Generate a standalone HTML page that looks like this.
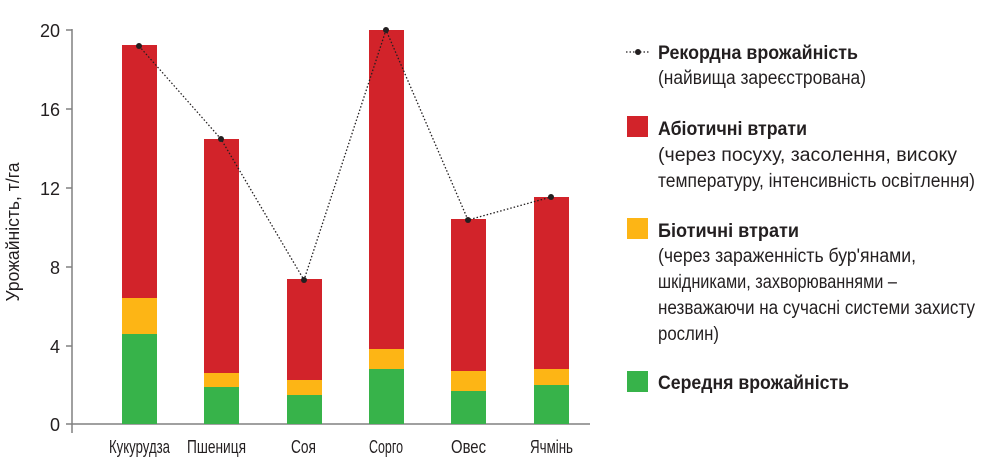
<!DOCTYPE html>
<html><head><meta charset="utf-8"><style>
body{margin:0;background:#fff;}
svg text{font-family:"Liberation Sans Narrow","Liberation Sans",sans-serif;fill:#231f20;}
</style></head><body>
<svg width="984" height="467" viewBox="0 0 984 467" xmlns="http://www.w3.org/2000/svg">
<g font-size="18" text-anchor="end">
<text x="60" y="37">20</text><text x="60" y="116">16</text><text x="60" y="195">12</text>
<text x="60" y="274">8</text><text x="60" y="353">4</text><text x="60" y="431">0</text>
</g>
<text transform="translate(19,232) rotate(-90)" font-size="18" text-anchor="middle" textLength="139" lengthAdjust="spacingAndGlyphs">Урожайність, т/га</text>
<g stroke="#808080" stroke-width="1.5">
<line x1="72" y1="29" x2="72" y2="433"/>
<line x1="66" y1="424" x2="590" y2="424"/>
<line x1="66" y1="30" x2="72" y2="30"/><line x1="66" y1="109" x2="72" y2="109"/>
<line x1="66" y1="188" x2="72" y2="188"/><line x1="66" y1="267" x2="72" y2="267"/>
<line x1="66" y1="346" x2="72" y2="346"/>
</g>
<g>
<rect x="122" y="45" width="35" height="253" fill="#d2232a"/><rect x="122" y="298" width="35" height="36" fill="#fdb515"/><rect x="122" y="334" width="35" height="90" fill="#37b34a"/>
<rect x="204" y="139" width="35" height="234" fill="#d2232a"/><rect x="204" y="373" width="35" height="14" fill="#fdb515"/><rect x="204" y="387" width="35" height="37" fill="#37b34a"/>
<rect x="287" y="279" width="35" height="101" fill="#d2232a"/><rect x="287" y="380" width="35" height="15" fill="#fdb515"/><rect x="287" y="395" width="35" height="29" fill="#37b34a"/>
<rect x="369" y="30" width="35" height="319" fill="#d2232a"/><rect x="369" y="349" width="35" height="20" fill="#fdb515"/><rect x="369" y="369" width="35" height="55" fill="#37b34a"/>
<rect x="451" y="219" width="35" height="152" fill="#d2232a"/><rect x="451" y="371" width="35" height="20" fill="#fdb515"/><rect x="451" y="391" width="35" height="33" fill="#37b34a"/>
<rect x="534" y="197" width="35" height="172" fill="#d2232a"/><rect x="534" y="369" width="35" height="16" fill="#fdb515"/><rect x="534" y="385" width="35" height="39" fill="#37b34a"/>
</g>
<polyline points="139,46 221,139 304,280 386,30 468,220 551,197" fill="none" stroke="#231f20" stroke-width="1.3" stroke-dasharray="1.5,2"/>
<g fill="#231f20"><circle cx="139" cy="46" r="3"/><circle cx="221" cy="139" r="3"/><circle cx="304" cy="280" r="3"/><circle cx="386" cy="30" r="3"/><circle cx="468" cy="220" r="3"/><circle cx="551" cy="197" r="3"/></g>
<g font-size="18" lengthAdjust="spacingAndGlyphs">
<text x="109" y="453" textLength="61" lengthAdjust="spacingAndGlyphs">Кукурудза</text>
<text x="187" y="453" textLength="59" lengthAdjust="spacingAndGlyphs">Пшениця</text>
<text x="291" y="453" textLength="25" lengthAdjust="spacingAndGlyphs">Соя</text>
<text x="369" y="453" textLength="34" lengthAdjust="spacingAndGlyphs">Сорго</text>
<text x="451" y="453" textLength="35" lengthAdjust="spacingAndGlyphs">Овес</text>
<text x="530" y="453" textLength="43" lengthAdjust="spacingAndGlyphs">Ячмінь</text>
</g>
<line x1="626" y1="52" x2="650" y2="52" stroke="#231f20" stroke-width="1.3" stroke-dasharray="1.5,2"/>
<circle cx="638" cy="52" r="3" fill="#231f20"/>
<rect x="627" y="116" width="21" height="21" fill="#d2232a"/>
<rect x="627" y="218" width="21" height="21" fill="#fdb515"/>
<rect x="627" y="371" width="21" height="21" fill="#37b34a"/>
<g font-size="19">
<text x="658" y="59" font-weight="bold" textLength="200" lengthAdjust="spacingAndGlyphs">Рекордна врожайність</text>
<text x="658" y="84" textLength="208" lengthAdjust="spacingAndGlyphs">(найвища зареєстрована)</text>
<text x="658" y="135" font-weight="bold" textLength="149" lengthAdjust="spacingAndGlyphs">Абіотичні втрати</text>
<text x="658" y="161" textLength="299" lengthAdjust="spacingAndGlyphs">(через посуху, засолення, високу</text>
<text x="658" y="187" textLength="317" lengthAdjust="spacingAndGlyphs">температуру, інтенсивність освітлення)</text>
<text x="658" y="237" font-weight="bold" textLength="141" lengthAdjust="spacingAndGlyphs">Біотичні втрати</text>
<text x="658" y="262" textLength="258" lengthAdjust="spacingAndGlyphs">(через зараженність бур'янами,</text>
<text x="658" y="288" textLength="239" lengthAdjust="spacingAndGlyphs">шкідниками, захворюваннями –</text>
<text x="658" y="314" textLength="317" lengthAdjust="spacingAndGlyphs">незважаючи на сучасні системи захисту</text>
<text x="658" y="340" textLength="61" lengthAdjust="spacingAndGlyphs">рослин)</text>
<text x="658" y="389" font-weight="bold" textLength="191" lengthAdjust="spacingAndGlyphs">Середня врожайність</text>
</g>
</svg>
</body></html>
